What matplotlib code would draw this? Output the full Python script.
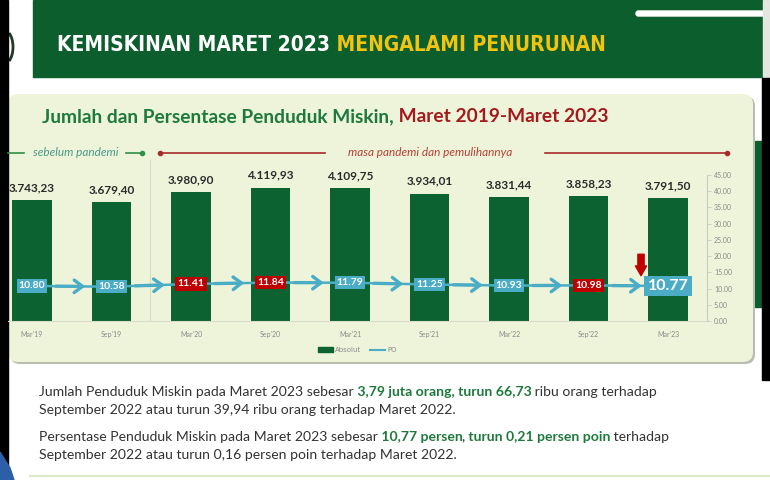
import matplotlib
matplotlib.use("Agg")
import matplotlib.pyplot as plt
from matplotlib import font_manager
from matplotlib.font_manager import FontProperties
from matplotlib.patches import Rectangle, FancyBboxPatch, Patch, Polygon, Arc
from matplotlib.lines import Line2D

categories = ["Mar'19", "Sep'19", "Mar'20", "Sep'20", "Mar'21",
              "Sep'21", "Mar'22", "Sep'22", "Mar'23"]
absolut = [3743.23, 3679.40, 3980.90, 4119.93, 4109.75,
           3934.01, 3831.44, 3858.23, 3791.50]
po = [10.80, 10.58, 11.41, 11.84, 11.79, 11.25, 10.93, 10.98, 10.77]
right_ticks = [0, 5, 10, 15, 20, 25, 30, 35, 40, 45]

installed = {f.name for f in font_manager.fontManager.ttflist}
soft = 'Lato' if 'Lato' in installed else 'DejaVu Sans'

# a narrow bold face for the banner, if one is installed
banner_fp = FontProperties(family='Roboto' if 'Roboto' in installed else 'DejaVu Sans',
                           weight='bold')
for f in sorted(font_manager.fontManager.ttflist, key=lambda f: 'liberation' not in f.fname.lower()):
    fn = f.fname.lower()
    if ('condensed' in fn or 'narrow' in fn) and 'bold' in fn \
            and 'oblique' not in fn and 'italic' not in fn:
        banner_fp = FontProperties(fname=f.fname)
        break

dark_green = '#0c5e2d'
bar_green = '#0c6331'
panel = '#eef4d9'
teal = '#4bacc6'
red = '#c00000'

W, H = 770, 480
fig = plt.figure(figsize=(W / 100, H / 100), dpi=100, facecolor='white')
renderer = fig.canvas.get_renderer()

# background / decorations in pixel space
bg = fig.add_axes([0, 0, 1, 1], zorder=0)
bg.set_xlim(0, W)
bg.set_ylim(H, 0)
bg.axis('off')

bg.add_patch(Rectangle((33, 0), 730, 77, color=dark_green))
bg.add_patch(FancyBboxPatch((636, 11), 130, 5, boxstyle='round,pad=0,rounding_size=2.5',
                            color='white'))
bg.add_patch(Rectangle((763, 0), 7, 78, color='#e4e6e0'))
bg.add_patch(Arc((4, 47), 18, 34, theta1=-70, theta2=70, color='#1f3a2a', lw=2))
bg.add_patch(Rectangle((755, 141), 8, 166, color=dark_green))
bg.add_patch(FancyBboxPatch((10, 96), 745, 268, boxstyle='round,pad=0,rounding_size=10',
                            facecolor='#b9bdb0', edgecolor='none'))
bg.add_patch(FancyBboxPatch((8, 94), 745, 268, boxstyle='round,pad=0,rounding_size=10',
                            facecolor=panel, edgecolor='none'))
bg.add_patch(Rectangle((0, 0), 8, H, color='black'))
bg.add_patch(Rectangle((762, 78), 8, 302, color='black'))
bg.add_patch(Polygon([(0, 452), (10, 468), (14, 480), (0, 480)], color='#2c5fa8'))
bg.plot([30, 770], [476, 476], color='#dfe8c8', lw=1.5)


def chain(ax, x, y, parts, **kw):
    texts = []
    for part in parts:
        s, c, w = part[:3]
        dx = part[3] if len(part) > 3 else 0
        if not texts:
            t = ax.text(x, y, s, color=c, fontweight=w, ha='left', va='baseline', **kw)
        else:
            t = ax.annotate(s, xy=(1, 0), xycoords=texts[-1], xytext=(dx, 0),
                            textcoords='offset points', ha='left', va='bottom',
                            color=c, fontweight=w, **kw)
        texts.append(t)
    return texts


def fit(texts, x0, x1):
    fig.canvas.draw()
    right = texts[-1].get_window_extent(renderer).x1
    scale = (x1 - x0) / (right - x0)
    for t in texts:
        t.set_fontsize(t.get_fontsize() * scale)
    return texts[0].get_fontsize()


# banner
b1 = bg.text(57, 51, 'KEMISKINAN MARET 2023', color='white', fontproperties=banner_fp,
             fontsize=18, ha='left', va='baseline')
b2 = bg.annotate(' MENGALAMI PENURUNAN', xy=(1, 0), xycoords=b1, xytext=(0, 0),
                 textcoords='offset points', ha='left', va='bottom', color='#f2c40f',
                 fontproperties=banner_fp, fontsize=18)
fit([b1, b2], 57, 604)

title = chain(bg, 42, 122, [('Jumlah dan Persentase Penduduk Miskin,', '#1d7a3c', 'bold'),
                            (' Maret 2019-Maret 2023', '#a5191c', 'bold')],
              fontsize=13, family=soft)
fit(title, 42, 608)

# period markers
bg.plot([8, 24], [153, 153], color='#2f8f47', lw=1.2)
bg.plot([126, 142], [153, 153], color='#2f8f47', lw=1.2)
bg.plot([142], [153], 'o', color='#2f8f47', ms=3)
bg.text(76, 153, 'sebelum pandemi', color='#4a9a8a', style='italic', fontsize=8.5,
        family=soft, ha='center', va='center')
bg.plot([160, 325], [153, 153], color='#a82b2b', lw=1.2)
bg.plot([545, 727], [153, 153], color='#a82b2b', lw=1.2)
bg.plot([160, 727], [153, 153], 'o', color='#a82b2b', ms=3)
bg.text(430, 153, 'masa pandemi dan pemulihannya', color='#b5403a', style='italic',
        fontsize=8.5, family=soft, ha='center', va='center')
bg.plot([150, 150], [160, 320], color='#d6dccb', lw=0.8)

# body text
body_green = '#1e7a3c'
line1 = chain(bg, 39, 396, [('Jumlah Penduduk Miskin pada Maret 2023 sebesar', '#333333', 'normal'),
                            (' 3,79 juta orang, turun 66,73', body_green, 'bold'),
                            (' ribu orang terhadap', '#333333', 'normal')],
              fontsize=10, family=soft)
body_size = fit(line1, 39, 655)
chain(bg, 39, 414, [('September 2022 atau turun 39,94 ribu orang terhadap Maret 2022.',
                     '#333333', 'normal')], fontsize=body_size, family=soft)
chain(bg, 39, 441, [('Persentase Penduduk Miskin pada Maret 2023 sebesar', '#333333', 'normal'),
                    (' 10,77 persen', body_green, 'bold'),
                    (',', '#333333', 'normal', -1),
                    (' turun 0,21 persen poin', body_green, 'bold'),
                    (' terhadap', '#333333', 'normal')],
      fontsize=body_size, family=soft)
chain(bg, 39, 459, [('September 2022 atau turun 0,16 persen poin terhadap Maret 2022.',
                     '#333333', 'normal')], fontsize=body_size, family=soft)

# chart
x = list(range(len(categories)))
ax = fig.add_axes([8 / W, 1 - 321 / H, 699 / W, 146 / H], zorder=2)
ax.patch.set_alpha(0)
ax.bar(x, absolut, width=0.5, color=bar_green, zorder=2)
ax.set_xlim(-0.302, 8.49)
ax.set_ylim(0, 4515)
for xi, v in zip(x, absolut):
    lab = f'{v:,.2f}'.replace(',', 'X').replace('.', ',').replace('X', '.')
    ax.annotate(lab, xy=(xi, v), xytext=(0, 5), textcoords='offset points',
                ha='center', va='bottom', fontsize=8.5, fontweight='bold',
                color='#2b2b2b', family=soft)
ax.set_yticks([])
ax.set_xticks(x)
ax.set_xticklabels(categories, fontsize=5, color='#8a8a8a', family=soft)
ax.tick_params(axis='x', length=0, pad=7)
for s in ['top', 'left', 'right']:
    ax.spines[s].set_visible(False)
ax.spines['bottom'].set_color('#d8dccb')
ax.spines['bottom'].set_linewidth(0.8)

ax2 = ax.twinx()
ax2.set_ylim(0, 45)
ax2.plot(x, po, color=teal, lw=1.8, zorder=3)
for i in range(len(po) - 1):
    f = 0.67
    xt = i + f
    yt = po[i] + (po[i + 1] - po[i]) * f
    ax2.annotate('', xy=(xt, yt), xytext=(i + 0.3, po[i] + (po[i + 1] - po[i]) * 0.3),
                 arrowprops=dict(arrowstyle='->,head_length=0.6,head_width=0.45',
                                 lw=2.4, color=teal, shrinkA=0, shrinkB=0), zorder=3)
for i, v in enumerate(po):
    up = i > 0 and v > po[i - 1]
    last = i == len(po) - 1
    ax2.text(i, v, f'{v:.2f}', ha='center', va='center', color='white',
             fontweight='bold', family=soft, fontsize=11.5 if last else 7.5,
             bbox=dict(boxstyle='square,pad=0.2', fc=red if up else teal, ec='none'),
             zorder=4)
ax2.annotate('', xy=(len(po) - 1 - 0.34, po[-1] + 3.2), xytext=(len(po) - 1 - 0.34, po[-1] + 9.8),
             arrowprops=dict(arrowstyle='simple,head_length=0.7,head_width=0.8,tail_width=0.45',
                             color=red, shrinkA=0, shrinkB=0), zorder=5)
ax2.set_yticks(right_ticks)
ax2.set_yticklabels([f'{t:.2f}' for t in right_ticks], fontsize=5, color='#8a8a8a',
                    family=soft)
ax2.tick_params(axis='y', length=3, width=0.6, color='#c8ccc0', pad=2)
for s in ['top', 'left', 'bottom']:
    ax2.spines[s].set_visible(False)
ax2.spines['right'].set_color('#c8ccc0')
ax2.spines['right'].set_linewidth(0.8)

handles = [Patch(color=bar_green, label='Absolut'),
           Line2D([0], [0], color=teal, lw=1.5, label='PO')]
fig.legend(handles=handles, loc='center', bbox_to_anchor=(357 / W, 1 - 350 / H), ncol=2,
           frameon=False, fontsize=5, labelcolor='#8a8a8a', handlelength=2.2,
           handleheight=0.6, columnspacing=1.2, handletextpad=0.3)

fig.savefig('out.png', dpi=100, facecolor='white')
